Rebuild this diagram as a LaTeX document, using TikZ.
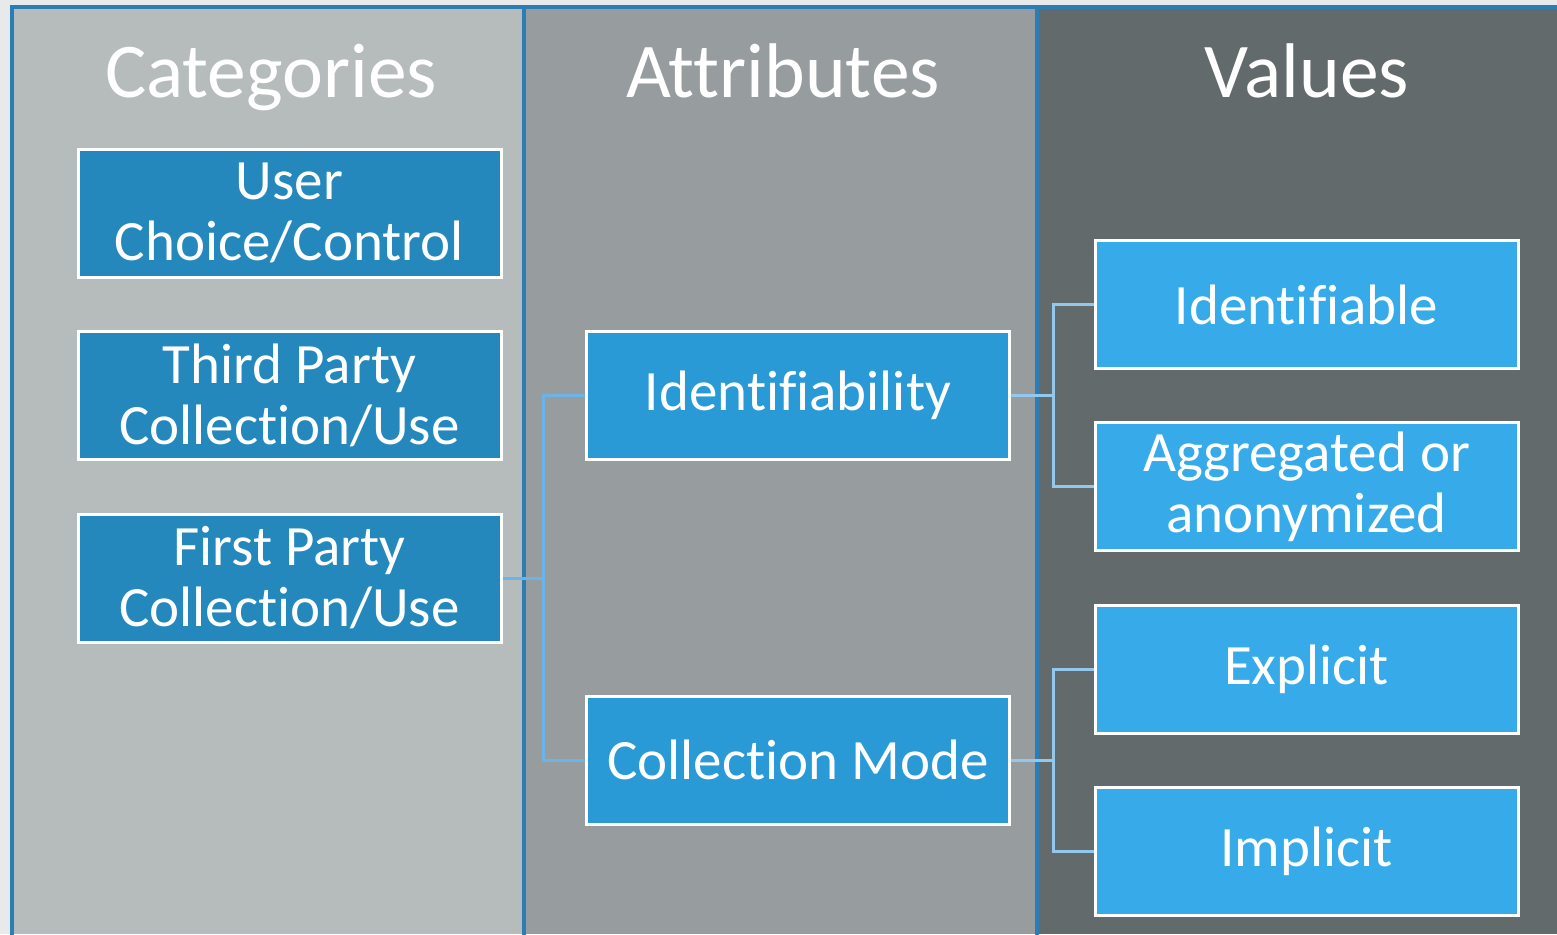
\documentclass[tikz,border=0pt]{standalone}
\usepackage{fontspec}
\setmainfont{Carlito}[Ligatures=CommonOff]
\definecolor{bgout}{HTML}{E8E9EA}
\definecolor{colA}{HTML}{B6BCBB}
\definecolor{colB}{HTML}{979C9F}
\definecolor{colC}{HTML}{636A6B}
\definecolor{edge}{HTML}{2A7DB5}
\definecolor{catfill}{HTML}{2488BD}
\definecolor{attfill}{HTML}{2A9AD7}
\definecolor{valfill}{HTML}{37ABE9}
\definecolor{linkA}{HTML}{6CB4E8}
\definecolor{linkB}{HTML}{94C7EC}
\begin{document}
\begin{tikzpicture}[x=1pt,y=-1pt,
  box/.style={draw=white, line width=3pt, minimum width=423pt, minimum height=128pt,
    inner sep=0pt, text=white, align=center,
    font=\fontsize{57}{61}\selectfont},
  catbox/.style={box, fill=catfill},
  attbox/.style={box, fill=attfill},
  valbox/.style={box, fill=valfill},
  head/.style={text=white, font=\fontsize{77.5}{80}\selectfont, inner sep=0pt, anchor=base},
  linkone/.style={draw=linkA, line width=3pt},
  linktwo/.style={draw=linkB, line width=3pt}]
\useasboundingbox (0,0) rectangle (1557,934);
\fill[bgout] (0,0) rectangle (1557,934);
\fill[colA] (12,7) rectangle (524,934);
\fill[colB] (524,7) rectangle (1037,934);
\fill[colC] (1037,7) rectangle (1557,934);
\draw[edge, line width=3.5pt] (12,940) -- (12,7) -- (1560,7);
\draw[edge, line width=3.5pt] (524,7) -- (524,940);
\draw[edge, line width=3.5pt] (1037,7) -- (1037,940);
% headers
\node[head] (hcat) at (271,97) {Categories};
\node[head] (hatt) at (783,97) {Attributes};
\node[head] (hval) at (1307,97) {Values};
% categories
\node[catbox] (uc) at (289.5,213) {User\\Choice/Control};
\node[catbox] (tp) at (289.5,395.5) {Third Party\\Collection/Use};
\node[catbox] (fp) at (289.5,578) {First Party\\Collection/Use};
% attributes
\node[attbox] (id) at (798,395.5) {Identifiability};
\node[attbox] (cm) at (798,760) {Collection Mode};
% values
\node[valbox] (v1) at (1306.5,304.5) {Identifiable};
\node[valbox] (v2) at (1306.5,486.5) {Aggregated or\\anonymized};
\node[valbox] (v3) at (1306.5,669) {Explicit};
\node[valbox] (v4) at (1306.5,851) {Implicit};
% connectors
\coordinate (j1) at (543,578);
\coordinate (j2) at (1053,395.5);
\coordinate (j3) at (1053,760);
\draw[linkone] (fp.east) -- (j1);
\draw[linkone] (id.west) -| (j1) |- (cm.west);
\draw[linktwo] (id.east) -- (j2);
\draw[linktwo] (v1.west) -| (j2) |- (v2.west);
\draw[linktwo] (cm.east) -- (j3);
\draw[linktwo] (v3.west) -| (j3) |- (v4.west);
\end{tikzpicture}
\end{document}
